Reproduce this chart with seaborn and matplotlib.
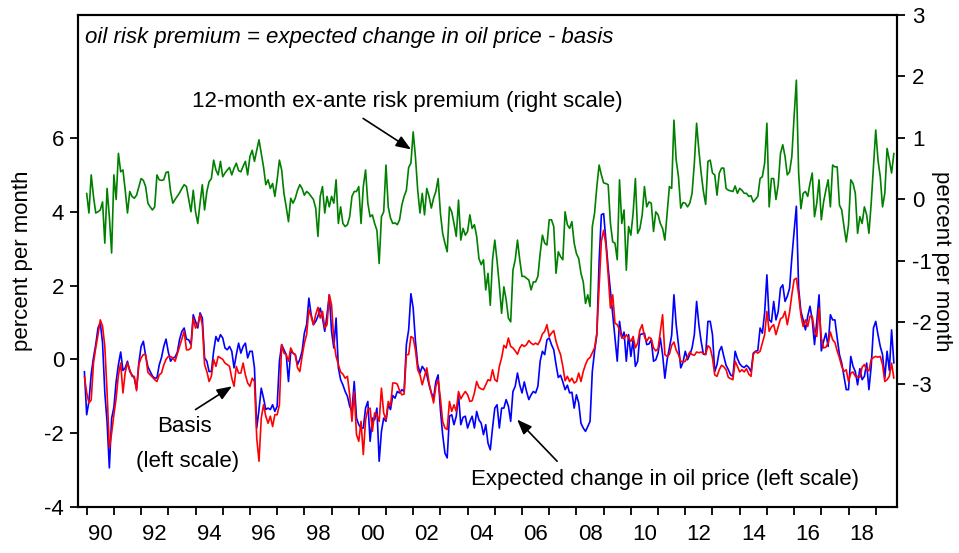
#!/usr/bin/env python3

import numpy as np
import pandas as pd
import matplotlib
matplotlib.use("Agg")
import matplotlib.pyplot as plt
import seaborn as sns

nan = np.nan

# 12-month ex-ante risk premium (right scale), monthly from 1990M1
risk_premium = [
    0.10, -0.22, 0.40, 0.05, -0.22, -0.20, -0.17, -0.04, -0.71, 0.18, -0.28, -0.87,
    0.40, 0.00, 0.75, 0.45, 0.48, 0.15, -0.22, 0.13, 0.05, 0.02, 0.07, nan,
    0.34, 0.31, 0.21, -0.06, -0.12, -0.17, -0.12, 0.40, 0.32, 0.31, 0.32, 0.44,
    0.45, 0.13, -0.06, 0.00, nan, 0.11, 0.18, 0.24, 0.21, 0.00, -0.20, 0.15,
    -0.20, -0.39, -0.06, 0.24, -0.17, 0.13, 0.29, 0.34, 0.64, 0.48, 0.40, 0.62,
    0.37, 0.43, 0.48, 0.52, 0.40, 0.51, 0.59, 0.47, 0.45, 0.54, 0.62, 0.40,
    0.70, 0.80, 0.62, 0.80, 0.97, 0.75, 0.53, 0.24, 0.32, 0.18, 0.26, 0.05,
    0.32, 0.64, 0.48, 0.10, -0.12, -0.36, 0.02, -0.06, 0.02, 0.15, 0.24, 0.18,
    0.07, 0.13, 0.10, 0.05, 0.00, -0.14, -0.60, 0.05, 0.21, -0.22, 0.05, -0.12,
    0.05, -0.06, 0.32, -0.39, -0.12, -0.39, -0.44, -0.41, -0.28, 0.05, 0.13, 0.13,
    0.21, -0.39, 0.21, 0.48, -0.06, -0.28, -0.25, -0.39, -0.50, -1.04, -0.28, -0.20,
    0.56, -0.12, -0.30, -0.39, -0.38, -0.41, -0.33, -0.09, 0.05, 0.15, 0.52, 0.59,
    1.10, 0.69, 0.15, -0.22, 0.10, -0.25, 0.18, 0.05, -0.14, 0.02, 0.13, 0.34,
    -0.22, -0.55, -0.71, -0.85, -0.12, -0.20, -0.39, -0.60, -0.01, -0.66, -0.47, -0.58,
    -0.52, -0.25, -0.47, -0.41, -0.60, -0.96, -1.06, -0.98, -1.47, -1.20, -1.72, -0.98,
    -0.66, -1.00, -1.40, -1.85, -1.42, -1.63, -1.93, -1.99, -1.15, -0.98, -0.66, -0.98,
    -1.25, -1.25, -1.28, -1.31, -1.47, -1.34, -1.34, -1.25, -0.88, -0.58, -0.71, -0.74,
    -0.33, -0.33, -0.44, -1.20, -0.85, -0.93, -0.98, -0.20, -0.41, -0.47, -0.36, -0.71,
    -0.88, -0.96, -1.20, -1.34, -1.69, -1.55, -1.74, -0.44, -0.22, 0.21, 0.56, 0.40,
    0.27, 0.26, 0.24, -0.39, -0.69, -0.71, -0.98, 0.32, -0.39, -0.17, -1.15, -0.44,
    -0.58, -0.22, 0.34, -0.55, -0.47, -0.25, 0.21, -0.12, -0.04, -0.06, -0.52, -0.20,
    -0.25, -0.39, -0.47, -0.66, -0.22, 0.21, 0.18, 1.29, 0.64, 0.37, -0.14, -0.05,
    -0.06, -0.12, -0.06, 0.10, 0.59, 1.24, 0.80, 0.43, 0.13, -0.08, 0.62, 0.64,
    0.43, 0.40, 0.07, 0.43, 0.51, 0.51, 0.18, 0.15, 0.14, 0.13, 0.22, 0.10,
    0.18, 0.15, 0.10, 0.10, 0.05, 0.06, -0.04, nan, 0.05, 0.34, 0.37, 0.59,
    1.24, -0.12, 0.34, 0.34, 0.00, 0.24, 0.75, 0.89, 0.70, 0.40, 0.45, 0.70,
    1.35, 1.94, 0.43, -0.15, 0.10, 0.13, 0.05, 0.26, 0.43, -0.28, -0.06, 0.32,
    -0.33, -0.04, 0.15, 0.32, -0.12, 0.56, 0.53, 0.53, -0.09, -0.17, -0.44, -0.69,
    -0.41, 0.32, 0.26, 0.10, -0.55, -0.28, -0.39, -0.12, -0.25, -0.55, -0.06, 0.53,
    1.13, 0.64, 0.37, -0.12, 0.10, 0.83, 0.64, 0.43, 0.75,
]

# basis (left scale), monthly from 1989M12
basis = [
    -0.46,
    -0.90, -1.18, -1.10, -0.10, 0.31, 0.67, 1.07, 0.90, 0.35, -0.90, -2.40, -2.00,
    -1.50, -1.05, -0.42, -0.10, -0.91, -0.35, -0.10, -0.28, -0.46, -0.46, -0.85, -0.14,
    0.04, 0.13, 0.13, -0.35, -0.42, -0.48, -0.55, -0.60, -0.42, -0.37, -0.15, 0.00,
    0.08, 0.08, 0.04, -0.05, 0.15, 0.35, 0.55, 0.76, 0.26, 0.26, 0.31, 1.12,
    0.85, 0.94, 1.21, 0.94, -0.14, -0.33, -0.60, -0.46, 0.00, -0.19, 0.08, 0.04,
    0.00, -0.10, -0.14, -0.19, -0.51, -0.73, -0.19, -0.37, -0.37, -0.10, -0.42, -0.64,
    -0.73, -0.51, -0.60, -2.13, -2.76, -1.59, -1.23, -1.54, -1.73, -1.54, -1.82, -1.50,
    -1.50, -1.23, 0.40, 0.17, 0.13, -0.05, 0.31, 0.17, 0.13, -0.23, -0.33, 0.08,
    0.44, 0.67, 1.35, 1.17, 0.94, 1.21, 1.41, 1.12, 1.30, 0.85, 0.94, 1.75,
    1.48, 0.49, 0.08, -0.14, -0.34, -0.40, -0.51, -0.46, -0.96, -1.68, -0.87, -2.04,
    -2.22, -1.68, -2.58, -1.64, -1.36, -1.32, -1.95, -1.45, -1.50, -1.68, -0.78, -1.45,
    -1.64, -1.14, -1.27, -0.64, -0.64, -0.67, -0.85, -0.96, -0.94, 0.13, 0.13, 0.62,
    0.58, 0.26, -0.28, -0.42, -0.69, -0.46, -0.23, -0.64, -0.91, -1.18, -0.73, -0.55,
    -1.05, -1.68, -1.86, -1.90, -1.14, -1.41, -1.23, -1.41, -0.87, -1.07, -0.96, -0.87,
    -0.96, -1.14, -1.12, -0.91, -0.60, -0.76, -0.80, -0.82, -0.69, -0.55, -0.58, -0.28,
    -0.55, -0.60, -0.19, 0.04, 0.38, 0.31, 0.58, 0.35, 0.31, 0.23, 0.14, 0.31,
    0.40, 0.35, 0.40, 0.51, 0.44, 0.40, 0.44, 0.40, 0.51, 0.69, 0.76, 0.94,
    0.62, 0.71, 0.78, 0.49, 0.29, 0.13, -0.19, -0.58, -0.46, -0.60, -0.51, -0.64,
    -0.60, -0.37, -0.60, -0.33, -0.14, 0.00, 0.05, 0.18, 0.31, 0.71, 1.93, 3.20,
    3.50, 3.10, 2.29, 1.39, 1.75, 0.98, 0.94, 0.80, 0.60, 0.56, 0.67, 0.58,
    0.49, 0.62, 0.31, 0.44, 0.80, 0.94, 0.62, 0.49, 0.60, 0.56, 0.31, 0.23,
    0.29, 0.76, 1.21, 0.13, 0.08, 0.14, 0.38, 0.47, 0.25, 0.13, -0.05, -0.07,
    -0.05, 0.07, 0.20, 0.13, 0.11, 0.20, 0.18, 0.20, 0.16, 0.14, 0.37, 0.31,
    0.04, -0.42, -0.46, -0.28, -0.16, -0.20, -0.28, -0.49, -0.52, -0.55, -0.05, -0.19,
    -0.34, -0.28, -0.34, -0.25, -0.40, -0.46, 0.13, 0.22, 0.17, 0.22, 0.44, 0.67,
    1.30, 0.76, 0.88, 0.94, 0.67, 0.89, 1.10, 1.14, 1.30, 0.94, 1.28, 1.75,
    2.16, 2.20, 1.75, 1.20, 0.89, 1.07, 0.89, 1.17, 1.17, 0.76, 0.62, 1.39,
    0.58, 0.31, 0.33, 0.44, 0.74, 0.53, 0.46, 0.23, 0.04, -0.19, -0.33, -0.28,
    -0.60, -0.37, -0.34, -0.46, -0.46, -0.49, -0.21, -0.14, -0.28, -0.31, 0.00, 0.05,
    0.08, 0.06, 0.08, -0.14, -0.60, -0.55, -0.46, -0.10, -0.51,
]

# expected change in oil price (left scale), monthly from 1989M12
expected_change = [
    -0.33,
    -1.50, -1.14, -0.40, 0.05, 0.40, 0.85, 1.00, 0.45, -0.90, -1.70, -2.94, -1.60,
    -1.30, -0.60, -0.14, 0.20, -0.30, -0.23, -0.05, -0.33, -0.42, -0.51, -0.80, -0.10,
    0.35, 0.49, 0.10, -0.20, -0.33, -0.45, -0.51, -0.50, -0.15, 0.05, 0.35, 0.55,
    0.20, -0.05, 0.04, 0.06, 0.20, 0.55, 0.76, 0.85, 0.55, 0.53, 0.40, 1.21,
    1.03, 0.85, 1.26, 1.12, 0.04, -0.05, -0.33, -0.33, 0.22, 0.62, 0.49, 0.67,
    0.58, 0.31, 0.26, 0.35, 0.22, -0.23, 0.13, 0.44, 0.17, 0.35, 0.44, 0.04,
    0.22, 0.22, -0.23, -1.86, -1.36, -0.78, -1.05, -1.36, -1.32, -1.36, -1.23, -1.41,
    -1.27, -0.05, 0.40, 0.26, 0.13, -0.60, 0.22, 0.17, 0.13, -0.14, 0.00, 0.22,
    0.71, 0.94, 1.66, 1.21, 0.94, 1.03, 1.17, 1.39, 1.12, 0.76, 1.21, 1.75,
    0.76, 0.31, 1.12, -0.23, -0.55, -0.69, -0.87, -1.00, -1.27, -1.41, -0.60, -1.59,
    -1.77, -1.86, -1.86, -1.32, -1.14, -2.22, -1.59, -1.64, -1.32, -2.76, -1.95, -1.59,
    -1.68, -1.23, -1.36, -0.98, -1.05, -0.87, -0.91, -0.82, -0.87, 0.40, 0.80, 1.78,
    1.39, 0.49, -0.14, -0.37, -0.19, -0.28, -0.42, -0.69, -0.91, -1.05, -0.60, -0.42,
    -1.36, -2.04, -2.54, -2.67, -1.54, -1.50, -1.77, -1.54, -0.96, -1.77, -1.57, -1.54,
    -1.86, -1.68, -1.54, -1.86, -1.41, -1.64, -1.73, -2.04, -1.77, -2.27, -2.45, -1.86,
    -1.32, -1.23, -1.86, -1.32, -1.32, -1.09, -1.27, -1.68, -0.87, -0.73, -0.37, -0.69,
    -0.91, -0.61, -0.87, -1.09, -0.96, -0.87, -0.91, -0.73, -0.05, 0.22, 0.13, 0.53,
    0.58, 0.40, 0.26, -0.14, -0.49, -0.43, -0.61, -0.82, -0.70, -0.91, -0.89, -1.32,
    -0.96, -1.18, -1.73, -1.86, -1.95, -1.82, -1.68, -0.33, 0.22, 0.67, 2.66, 3.92,
    3.95, 3.20, 2.48, 1.84, 1.21, 0.53, -0.05, 1.03, 0.58, 0.74, -0.05, 0.67,
    0.08, 0.53, -0.19, -0.05, 0.67, 0.69, 0.71, 0.40, 0.42, 0.53, -0.05, -0.01,
    0.17, 0.58, 0.13, -0.51, -0.01, 0.31, 0.65, 1.75, 0.94, 0.40, -0.23, -0.08,
    0.22, -0.01, 0.13, 0.31, 0.67, 1.57, 0.94, 0.49, 0.14, 0.13, 1.03, 1.03,
    0.67, -0.33, -0.14, 0.22, 0.35, 0.08, -0.16, -0.28, -0.42, -0.46, 0.22, 0.02,
    -0.12, -0.19, -0.22, -0.16, -0.22, -0.33, 0.17, 0.22, 0.24, 0.85, 0.71, 1.26,
    2.29, 1.07, 1.01, 1.57, 1.07, 1.30, 1.93, 2.02, 1.57, 1.71, 1.93, 2.75,
    3.47, 4.15, 1.93, 1.30, 1.07, 0.80, 1.17, 1.44, 1.07, 0.40, 1.03, 1.75,
    0.23, 0.49, 0.71, 0.35, 1.21, 1.07, 1.07, 0.58, 0.13, -0.10, -0.46, -0.82,
    -0.82, 0.08, -0.19, -0.33, -0.69, -0.25, -0.55, -0.46, -0.10, -0.82, -0.19, 0.85,
    1.03, 0.67, 0.35, 0.13, -0.51, 0.22, -0.30, 0.80, -0.10,
]

year_ticks = list(range(1990, 2020))
label_years = list(range(1990, 2019, 2))
left_ticks = [-4, -2, 0, 2, 4, 6]
right_ticks = [-3, -2, -1, 0, 1, 2, 3]

TITLE = "oil risk premium = expected change in oil price - basis"
FONT = ["Liberation Sans", "DejaVu Sans"]
FS = 16


def monthly(values, start):
    # decimal-year dates for a monthly series starting at `start`
    return pd.DataFrame({"date": start + np.arange(len(values)) / 12.0,
                         "value": values})


def makePlot():
    sns.set_style("white")
    plt.rcParams["font.family"] = FONT
    plt.rcParams["axes.linewidth"] = 1.5
    for key in ("text.color", "axes.labelcolor", "xtick.color", "ytick.color"):
        plt.rcParams[key] = "black"

    fig = plt.figure(figsize=(9.59, 5.53), dpi=100)
    ax = fig.add_axes([0.0813, 0.0832, 0.8540, 0.8897])

    exp_df = monthly(expected_change, 1990 - 1 / 12)
    basis_df = monthly(basis, 1990 - 1 / 12)
    prem_df = monthly(risk_premium, 1990)

    sns.lineplot(data=exp_df, x="date", y="value", color="#0000ff",
                 lw=1.2, estimator=None, ax=ax)
    sns.lineplot(data=basis_df, x="date", y="value", color="#ff0000",
                 lw=1.2, estimator=None, ax=ax)

    ax2 = ax.twinx()
    sns.lineplot(data=prem_df, x="date", y="value", color="#008000",
                 lw=1.2, estimator=None, ax=ax2)

    ax.set_xlim(1989.68, 2019.78)
    ax.set_ylim(-4, 9.333)
    ax2.set_ylim(-5, 3)

    # year ticks on the boundaries, labels centred in the year
    ax.set_xticks(year_ticks)
    ax.set_xticklabels([])
    ax.set_xticks([y + 0.5 for y in label_years], minor=True)
    ax.set_xticklabels([f"{y % 100:02d}" for y in label_years], minor=True)
    ax.tick_params(axis="x", which="major", direction="out", length=6,
                   width=1.3, bottom=True)
    ax.tick_params(axis="x", which="minor", length=0, pad=12, labelsize=FS)

    ax.set_yticks(left_ticks)
    ax.set_yticklabels([str(t) for t in left_ticks])
    ax.tick_params(axis="y", direction="out", length=6, width=1.3,
                   left=True, labelsize=FS, pad=4)
    ax2.set_yticks(right_ticks)
    ax2.set_yticklabels([str(t) for t in right_ticks])
    ax2.tick_params(axis="y", direction="out", length=6, width=1.3,
                    right=True, labelsize=FS, pad=5)

    ax.set_xlabel("")
    ax.set_ylabel("percent per month", fontsize=FS, labelpad=8)
    ax2.set_xlabel("")
    ax2.set_ylabel("percent per month", fontsize=FS, rotation=270,
                   labelpad=14)

    for a in (ax, ax2):
        for s in a.spines.values():
            s.set_color("black")
            s.set_linewidth(1.5)

    ax.text(0.009, 0.955, TITLE, transform=ax.transAxes, fontsize=FS,
            style="italic", ha="left", va="center")

    arrow = dict(arrowstyle="-|>,head_length=0.9,head_width=0.35",
                 color="black", lw=1.2, shrinkA=0, shrinkB=0)

    ax.text(2001.78, 6.99, "12-month ex-ante risk premium (right scale)",
            fontsize=FS, ha="center", va="center")
    ax.annotate("", xy=(2001.92, 5.69), xytext=(2000.16, 6.53),
                arrowprops=arrow)

    ax.text(1993.6, -1.82, "Basis", fontsize=FS, ha="center", va="center")
    ax.text(1993.7, -2.76, "(left scale)", fontsize=FS, ha="center",
            va="center")
    ax.annotate("", xy=(1995.34, -0.73), xytext=(1994.0, -1.36),
                arrowprops=arrow)

    ax.text(2011.26, -3.25, "Expected change in oil price (left scale)",
            fontsize=FS, ha="center", va="center")
    ax.annotate("", xy=(2005.82, -1.63), xytext=(2007.29, -2.76),
                arrowprops=arrow)

    fig.savefig("out.png", dpi=100)


def main():
    makePlot()


if __name__ == "__main__":
    main()
